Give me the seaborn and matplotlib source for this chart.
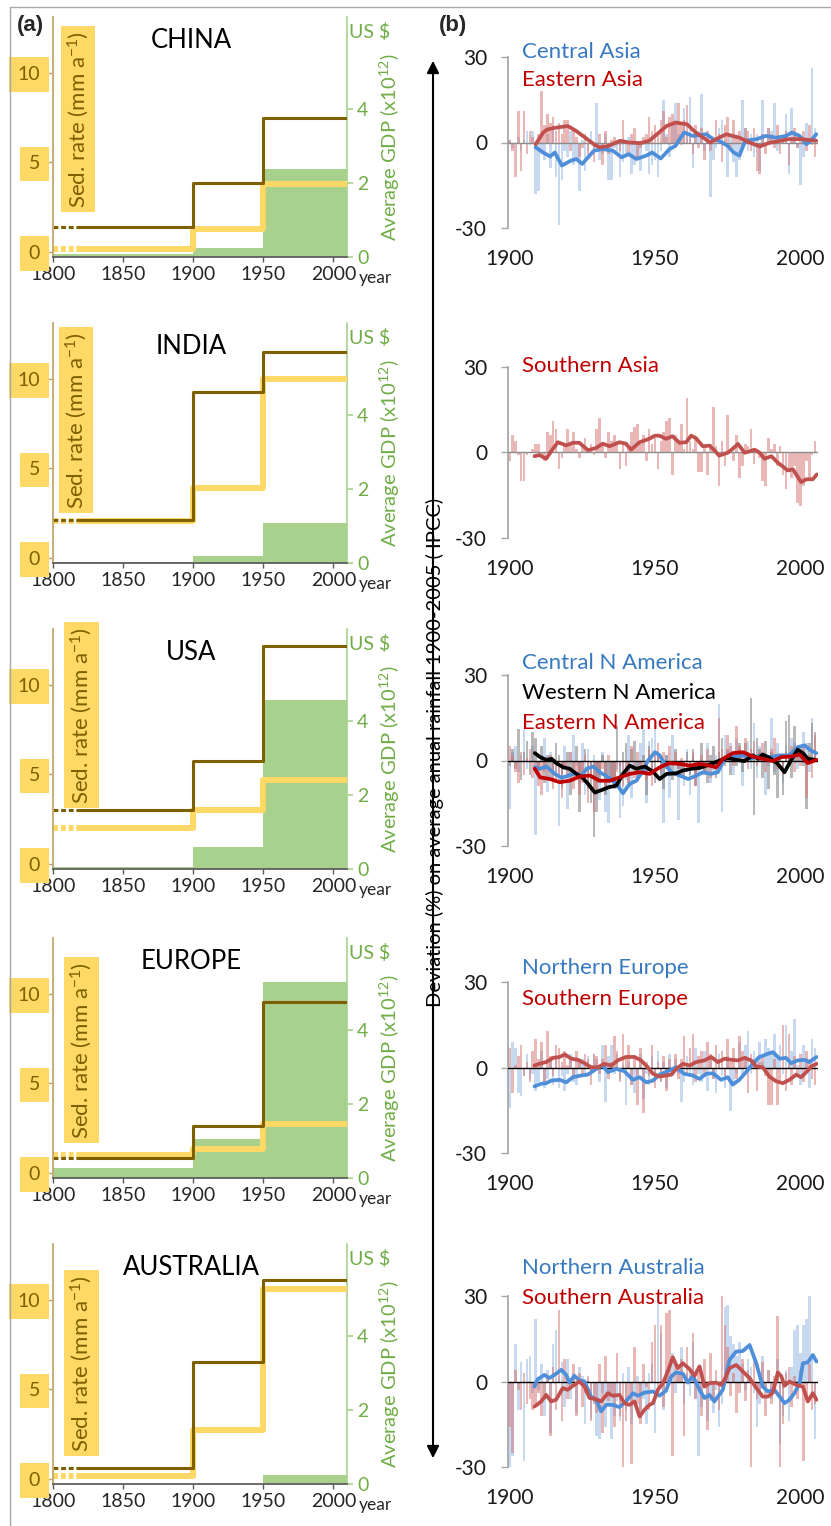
import numpy as np
import pandas as pd
import seaborn as sns
import matplotlib.pyplot as plt
from matplotlib.patches import FancyArrowPatch
from matplotlib.lines import Line2D

# ---------------- panel (a): sedimentation rate vs GDP ----------------
regions = ["CHINA", "INDIA", "USA", "EUROPE", "AUSTRALIA"]
period_edges = [1800, 1900, 1950, 2009.5]
break_end = 1818  # dotted "break" before this year

# dark brown step line (mm a-1) for 1800-1900, 1900-1950, 1950-
sed_dark = [[1.4, 3.85, 7.5], [2.1, 9.27, 11.5], [3.02, 5.74, 12.16],
            [0.84, 2.64, 9.53], [0.59, 6.55, 11.13]]
# thick yellow step line (mm a-1)
sed_light = [[0.15, 1.26, 3.8], [2.05, 3.91, 10.0], [1.99, 2.98, 4.69],
             [0.97, 1.34, 2.74], [0.13, 2.7, 10.58]]
# average GDP (x10^12 US $)
gdp = [[0.09, 0.26, 2.39], [0.03, 0.2, 1.1], [0.05, 0.59, 4.59],
       [0.27, 1.05, 5.3], [0.0, 0.02, 0.25]]

# ---------------- panel (b): rainfall deviation (%) ----------------
central_asia = [
    1, -2, 0, 2, -3, 1, 4, -1, 4, -18,
    -17, -4, -6, 3, -9, 6, -12, -29, -13, -3,
    -5, 4, -8, -6, -17, 1, -10, -3, 4, -4,
    14, -6, -4, 3, -13, -13, -2, -3, -12, -7,
    -4, 2, -11, -8, -6, -10, -1, -3, -11, -8,
    -6, -12, -3, 15, 3, -5, 7, 14, 3, -1,
    12, 4, 16, -9, 3, 4, 17, -3, 1, -19,
    -6, -2, 5, 8, 1, -12, 3, -7, -12, -6,
    15, 5, -3, 3, -5, 3, -10, 15, -1, 5,
    4, 14, -3, 0, 1, 10, -11, 12, 3, -2,
    -15, -5, 7, 0, 26, 5]
eastern_asia = [
    1, -3, -12, 11, -10, 11, -4, 4, 2, -1,
    3, 18, 6, 10, 7, 9, 4, 7, 3, 8,
    8, -3, 5, 2, -5, -2, 3, -5, 1, -7,
    -2, 3, -8, 4, -4, 1, 2, -1, -3, 8,
    1, -4, 3, 5, -6, -2, 2, 3, 9, 4,
    6, 3, 8, 11, 2, 9, 10, 7, 14, 6,
    8, 13, 2, -4, 6, -2, 5, -6, 4, -3,
    0, 8, 3, -7, 6, 9, -3, 8, 2, 4,
    -2, 5, 4, -3, 5, -10, -11, 3, -4, 5,
    3, -2, 6, -4, 2, 4, -8, 1, 5, -2,
    2, 4, -3, 6, -1, -5]
southern_asia = [
    -3, 6, 4, -1, -10, -10, -1, 0, 1, 3,
    3, -1, -3, 7, 6, 11, 8, -6, -2, 3,
    8, 3, 7, 1, -2, 2, 5, 1, 3, -1,
    8, 12, 3, -2, 7, 4, 6, 4, -6, 3,
    -5, 2, 7, 9, 10, 3, 6, -3, 8, 3,
    5, -6, 4, 7, 11, 12, -8, 6, 3, 10,
    1, 19, 4, 1, 5, -7, -7, 2, -8, 3,
    16, 2, -12, 4, -5, 13, 1, -3, 6, -9,
    -5, 3, 2, 8, -4, 1, -2, -10, -12, 5,
    1, 3, -5, 2, -8, -13, -7, -9, -5, -18,
    -19, -12, -3, -10, -1, 4]
central_n_america = [
    -17, 3, 5, -4, 2, 11, -3, 0, 5, -26,
    -5, 2, 8, -11, 3, -6, -4, -23, -10, 5,
    -17, 3, 9, -2, -8, 6, -12, 4, -3, 2,
    -8, -14, 3, -18, -22, -6, -10, -3, -20, -16,
    -7, 9, -13, -2, -5, 6, 11, -15, 7, 8,
    12, 3, -6, -22, 2, -13, 9, -4, -21, -3,
    -9, 4, -12, 2, -6, -22, -2, -4, 6, -8,
    -5, 2, 20, -18, 9, 3, 6, -5, 8, 4,
    -9, 2, 7, -3, 13, -6, 5, 3, -12, -2,
    15, -4, 6, 2, -8, 5, 3, 8, 6, -3,
    5, 10, 6, -4, 15, 2]
western_n_america = [
    -2, 4, -3, 11, -7, 3, 7, -5, 10, 8,
    -3, 5, -8, 2, -6, -4, 6, 2, -9, -3,
    3, -12, -5, 5, -18, -6, 4, -10, -15, -27,
    -18, -8, 2, -12, -5, -7, -9, 12, -10, 3,
    6, -8, 4, 7, -6, -3, 2, -12, 5, -4,
    -8, 3, -6, -10, 2, -5, -7, 4, -3, -6,
    -2, 3, -5, 4, -9, -3, 6, -4, -8, 2,
    5, -6, 3, 8, -2, 4, -5, 3, -2, 6,
    -4, 6, 3, 22, -19, 8, 4, -6, 7, -10,
    3, -5, -13, 2, -12, 14, 16, -6, 12, 5,
    4, -2, -17, 6, 13, 10]
eastern_n_america = [
    5, 2, -4, -8, 3, -5, 1, 4, -6, -3,
    -9, -12, -4, -7, 2, -10, -8, -5, -13, -3,
    -6, 3, -10, -4, -12, -8, 2, -15, -6, -18,
    -12, -5, -3, -9, 2, -7, -10, -4, -2, -9,
    -3, -8, 5, -6, 3, -5, -2, -7, 4, -9,
    2, 6, -4, 3, -3, 5, -2, 3, -3, 1,
    -6, -4, -2, 3, -9, -3, 2, -5, 4, -6,
    -2, -1, 15, 4, 2, 9, 5, -2, 12, 5,
    2, 8, -3, 4, 7, -2, 3, 6, -4, 2,
    4, 8, -3, 2, -5, 3, 1, 5, -4, 3,
    -2, 5, -13, 2, -6, 9]
northern_europe = [
    -14, 9, 7, -9, -10, -3, 5, -4, -2, -8,
    -5, 6, -7, -4, 3, -6, 4, -7, -3, -8,
    -2, 5, -5, -6, 2, 3, -3, 4, -2, 5,
    3, -5, 8, -12, 4, 8, -2, 5, -4, 1,
    -13, 2, -6, -9, -3, 5, -11, -2, -6, 4,
    -3, 6, -5, 2, -7, 5, -3, 3, -2, -12,
    -5, 4, -3, -6, 7, -2, -5, 6, -8, 3,
    -4, -9, 5, -3, -7, 4, -15, -6, -2, 9,
    -3, 8, 13, -2, 6, 4, 9, 2, 10, 7,
    5, 12, 3, 8, -2, 15, 3, 6, 17, 1,
    -6, 8, 3, -7, 10, 7]
southern_europe = [
    7, -9, 1, 4, 8, -3, 2, -5, 6, 10,
    3, 9, -5, 13, 4, -3, 8, 7, 2, 6,
    1, 4, -4, 6, 2, -3, 5, 3, -6, 5,
    4, -2, 3, 8, -4, 2, 11, 6, -5, 12,
    3, 8, -6, 4, -13, 7, -16, 2, -3, 8,
    -7, 2, -5, 4, -8, 3, -2, 5, -4, 3,
    11, -3, 7, 12, -5, 4, 6, -2, 9, 5,
    -4, 8, 3, 6, -3, 10, 2, 7, -4, 11,
    6, 4, -9, 5, 3, -8, 2, 4, -3, -13,
    -13, 3, -13, -5, 15, -8, 12, -6, 4, -3,
    5, -5, 6, 3, -4, -6]
northern_australia = [
    -30, -26, 13, -10, 7, -28, 8, 9, -4, 22,
    -3, 6, -12, 4, -18, 13, 18, 2, 7, -9,
    8, -6, 3, -11, 5, 2, -15, 1, -13, -8,
    -19, -20, -4, -16, -8, -20, -12, -7, -14, 3,
    -10, 5, -15, -8, 2, -12, -6, -15, 3, 6,
    -18, 29, 17, -10, 4, 2, 10, -4, 6, 12,
    -8, 3, -5, 14, -6, -26, -9, -2, -14, -7,
    -11, -3, -16, -8, 26, 27, 16, 13, 9, 14,
    6, -3, 8, 5, -4, -16, -8, 9, -2, 4,
    -6, -2, 8, -22, -12, 4, -14, 5, 18, 20,
    10, 20, 22, 30, 8, -20]
southern_australia = [
    -16, -25, 4, -3, -10, 3, -8, -6, -10, -8,
    -4, -12, -6, 2, -19, 5, -10, 25, -14, 8,
    -6, -2, 6, -12, 3, -9, -4, 2, -14, -8,
    -11, 6, -18, 9, -7, -4, -16, 10, -12, -30,
    -14, -6, -29, 12, -8, -15, 6, -2, -10, 14,
    20, -5, 20, -9, 24, 25, -26, 6, 3, 8,
    -19, 12, 5, 17, -6, 3, -12, 8, -17, 10,
    -6, 4, -10, 30, 20, 12, -5, 3, -11, -4,
    8, -7, 4, -30, 10, -6, -3, 7, -12, 4,
    -8, 2, 23, -30, -15, 3, 5, -9, 2, -6,
    4, -28, -5, 6, -10, -8]

# running means (year, %)
central_asia_line = [
    (1909, -1.7), (1911.6, -3.5), (1914, -4.9), (1915.6, -3.5), (1918, -8.1),
    (1921, -6.4), (1923, -5.8), (1925, -7.5), (1929, -2.9), (1932, -2.3),
    (1935.6, -2.9), (1938.5, -5.2), (1941, -4.1), (1943.6, -5.8), (1947, -4.6),
    (1949, -3.5), (1952, -5.6), (1955, -2.3), (1957, -1.2), (1960, 3.5),
    (1963, 2.3), (1967.6, 2.9), (1970, 1.2), (1972, 0.6), (1975, -1.2),
    (1977, -3.5), (1979, -4.6), (1981, 0.6), (1985, 1.2), (1988, 2.3),
    (1991.6, 1.7), (1995, 2.3), (1997, 3.5), (1999.7, 2.3), (2002, -0.6),
    (2004, 1.2), (2005.4, 2.9)]
eastern_asia_line = [
    (1909, -0.6), (1911.6, 3.5), (1913, 4.6), (1916, 5.2), (1920, 5.8),
    (1923, 4.0), (1926, 1.7), (1929, -0.6), (1931, -1.7), (1934, -1.2),
    (1938, 0.6), (1941, 0.0), (1945, -0.2), (1948, 0.6), (1950, 2.3),
    (1954, 5.8), (1957, 7.0), (1961, 6.4), (1964, 3.5), (1969, 0.0),
    (1972, 1.7), (1974.5, 2.9), (1979, 1.7), (1982.5, 0.0), (1986, -1.4),
    (1989, -0.2), (1993, 0.6), (1996, 1.2), (2000, 1.2), (2005.4, 0.6)]
southern_asia_line = [
    (1908.6, -1.4), (1910.3, -1.0), (1912.6, -2.3), (1914.3, 0.3), (1916.6, 3.5),
    (1919.5, 2.4), (1921.8, 3.3), (1924, 3.3), (1927, 0.7), (1929.8, 1.5),
    (1932, 3.0), (1934.4, 2.1), (1937.8, 3.5), (1940, 3.0), (1941.8, 0.9),
    (1944.7, 3.5), (1948, 4.7), (1950, 5.8), (1951.5, 5.8), (1953.8, 4.7),
    (1956, 5.6), (1958.4, 3.3), (1960.7, 3.5), (1962.4, 5.8), (1964, 5.0),
    (1966.4, 2.1), (1968.7, 2.3), (1970.4, 0.7), (1972, -1.2), (1975, -0.2),
    (1976.7, 1.2), (1978.5, 2.9), (1980.8, -0.2), (1982.5, 0.3), (1984.2, 0.9),
    (1986, -0.2), (1987.6, -2.3), (1990, -1.4), (1992.2, -3.7), (1994.5, -5.5),
    (1995.6, -6.4), (1997.4, -6.0), (1998.5, -7.8), (2000.2, -10.5), (2002, -9.5),
    (2004.2, -9.5), (2005.6, -7.8)]
central_n_america_line = [
    (1908.7, -2.4), (1910.5, -2.9), (1912.7, -2.1), (1915.6, -4.7), (1917.9, -6.1),
    (1920.2, -5.3), (1922.5, -4.5), (1924.8, -5.3), (1926.5, -2.9), (1928.8, -2.1),
    (1931, -4.1), (1934, -5.9), (1936.7, -8.2), (1939, -11.5), (1941.3, -8.2),
    (1943.6, -7.1), (1945.9, -3.5), (1947.6, 0.0), (1950, 2.9), (1951.6, 1.8),
    (1953.3, -1.2), (1955.6, -4.1), (1958.5, -5.3), (1961.4, -6.5), (1964.2, -5.3),
    (1966.5, -4.1), (1969.3, -4.7), (1971.6, -4.1), (1973.9, 0.6), (1976.8, 1.2),
    (1980.2, 1.8), (1983, 0.6), (1986, 1.8), (1989.4, 1.2), (1992.8, 1.8),
    (1996.2, 1.8), (1999, 4.7), (2001.4, 5.3), (2003.6, 3.5), (2005.4, 2.6)]
western_n_america_line = [
    (1908.7, 2.6), (1910.5, 1.2), (1912.7, 0.2), (1914.5, 0.6), (1916, -0.9),
    (1918.5, -2.4), (1920.7, -2.9), (1923, -4.7), (1925, -5.9), (1927, -8.2),
    (1929.3, -11.2), (1931.6, -10.4), (1934, -9.4), (1936.7, -8.8), (1939, -4.7),
    (1941.3, -1.8), (1943.6, -2.9), (1946.5, -2.1), (1949.3, -3.9), (1951.6, -6.5),
    (1954, -4.7), (1957.3, -4.5), (1959.6, -3.5), (1962.5, -2.9), (1965.4, -2.6),
    (1968.8, -1.4), (1972.2, 0.0), (1975, 0.9), (1978, 0.2), (1980.8, -0.2),
    (1983.6, 1.8), (1985.4, 0.6), (1987, 2.1), (1989.4, 0.9), (1992.2, -1.2),
    (1994.5, -4.1), (1996.8, 0.2), (1999, 3.8), (2000.8, 2.6), (2002.5, 0.6),
    (2005.4, 0.2)]
eastern_n_america_line = [
    (1908.7, -2.9), (1910.5, -5.9), (1913.9, -6.5), (1917.3, -7.6), (1920.7, -7.1),
    (1924.2, -5.6), (1927.6, -5.3), (1931, -7.1), (1934.5, -7.1), (1937.9, -5.9),
    (1941.3, -4.7), (1944.8, -4.1), (1948.2, -4.7), (1951.6, -2.4), (1955, -0.9),
    (1958.5, -1.2), (1961.9, -1.8), (1965.4, -1.2), (1968.8, -1.8), (1971, -2.4),
    (1973.4, 0.6), (1976.8, 2.6), (1980.2, 2.9), (1983.6, 1.4), (1987, 0.6),
    (1990.5, -0.2), (1993.4, 1.2), (1996.8, 1.4), (1999.7, 2.1), (2002.5, -0.9),
    (2005.4, 0.2)]
northern_europe_line = [
    (1908.6, -6.5), (1910.9, -5.6), (1912.6, -5.4), (1914.3, -4.5), (1917.2, -4.2),
    (1919.5, -5.1), (1921.8, -3.3), (1924.6, -2.7), (1926.9, -2.4), (1929.8, -0.4),
    (1932, 0.8), (1933.8, -1.5), (1936.7, -0.4), (1939.5, -1.2), (1942.4, -4.2),
    (1944.7, -3.3), (1947, -5.1), (1949.3, -4.5), (1951.5, -2.4), (1954.4, -1.2),
    (1957.3, 0.2), (1960, -2.1), (1963, -2.7), (1965.3, -3.9), (1967.6, -2.1),
    (1969.9, -1.9), (1972.7, -4.2), (1975, -3.3), (1976.7, -5.9), (1979, -4.2),
    (1981.3, -1.5), (1983.6, 1.4), (1985.9, 3.8), (1988.8, 4.9), (1990.5, 5.5),
    (1992.8, 3.2), (1995, 3.5), (1996.8, 1.6), (1999, 2.6), (2001.4, 2.8),
    (2003, 2.0), (2005.5, 3.8)]
southern_europe_line = [
    (1908.6, 0.8), (1910.3, 1.4), (1912.6, 2.0), (1915, 3.5), (1917.2, 3.8),
    (1919, 4.7), (1921.2, 3.2), (1923.5, 2.8), (1925.8, 1.6), (1928, 0.2),
    (1930.4, 0.2), (1932.6, 1.4), (1935, 0.8), (1937.2, 2.6), (1940, 3.8),
    (1943, 3.8), (1945.2, 2.6), (1947.5, 0.2), (1949.3, -2.1), (1951.5, -3.1),
    (1953.8, -2.7), (1955.6, -2.4), (1957.3, -0.4), (1959.6, 1.4), (1961.9, 0.8),
    (1964.1, 2.0), (1967, 2.6), (1969.3, 3.8), (1971.6, 2.0), (1973.9, 3.2),
    (1976.2, 2.8), (1978.5, 2.6), (1980.8, 3.5), (1983, 2.6), (1984.8, 0.5),
    (1987, 0.2), (1989.3, -3.1), (1991.6, -4.7), (1993.9, -5.4), (1996.2, -4.2),
    (1998.5, -2.4), (2000.2, -3.3), (2002, -1.5), (2003.7, 0.5), (2005.5, 1.4)]
northern_australia_line = [
    (1908.6, -1.8), (1909.7, 0.8), (1912, 2.3), (1913.7, 1.2), (1916, 2.7),
    (1917.8, 4.1), (1919.5, 2.3), (1920.6, -0.4), (1922.3, 2.0), (1924, 0.4),
    (1925.8, 0.0), (1928, -5.3), (1929.8, -6.4), (1931.5, -10.5), (1933.2, -8.2),
    (1935.5, -8.2), (1937.8, -9.0), (1940, -7.0), (1942.4, -4.1), (1944.1, -5.0),
    (1946.4, -3.9), (1949.3, -3.5), (1951.5, -5.0), (1953.8, -3.2), (1955.6, 1.8),
    (1957.3, 3.2), (1959.6, 2.7), (1961.3, -0.4), (1963, 2.0), (1965.3, -2.9),
    (1967, -5.8), (1968.7, -4.7), (1970.4, -7.0), (1971.6, -5.3), (1973.3, -2.9),
    (1975.6, 7.6), (1977.9, 10.5), (1980.2, 10.7), (1982.5, 12.8), (1984.8, 6.4),
    (1987, -1.8), (1988.8, -3.5), (1991, -2.9), (1992.8, -5.3), (1994.5, -7.6),
    (1996.2, -6.4), (1997.9, -4.1), (1999.7, -0.6), (2000.8, 6.4), (2002.5, 6.7),
    (2004.2, 9.3), (2005.5, 7.0)]
southern_australia_line = [
    (1908.6, -8.8), (1910.9, -7.0), (1912.6, -4.7), (1914.3, -7.0), (1916, -6.4),
    (1918.3, -2.3), (1920, -2.9), (1921.8, -1.5), (1924, 0.0), (1925.8, -1.8),
    (1927.5, -5.8), (1929.8, -6.2), (1931.5, -7.0), (1933.8, -4.1), (1935.5, -5.0),
    (1937.8, -4.7), (1939.5, -7.6), (1941.2, -8.2), (1943, -7.0), (1944.7, -12.3),
    (1946.4, -9.9), (1948.1, -8.2), (1949.3, -7.6), (1951, -2.9), (1952.7, -0.6),
    (1954.4, 3.5), (1956.1, 8.5), (1957.8, 4.7), (1959.6, 6.4), (1961.9, 4.3),
    (1963.6, 2.0), (1965.3, 5.3), (1967, -1.8), (1968.7, -0.6), (1971, -0.4),
    (1972.7, -1.2), (1973.9, 0.6), (1975.6, 4.7), (1977.9, 5.8), (1980.2, 3.5),
    (1982.5, 1.2), (1984.8, -2.3), (1987, -5.3), (1988.8, -5.3), (1990.5, -3.9),
    (1992.2, 3.2), (1993.4, 1.8), (1994.5, -1.5), (1996.2, 0.0), (1998.5, -1.2),
    (2000.8, -1.8), (2002.5, -7.0), (2004.2, -4.1), (2005.5, -6.4)]

# colours
YELLOW = "#ffd966"
BROWN = "#7f6000"
TAN = "#bfa56b"
GDP_FILL = "#a9d18e"
GREEN_TXT = "#70ad47"
BLUE_BAR, RED_BAR, GRAY_BAR = "#8fb4e3", "#d67070", "#7f7f7f"
BLUE_LINE, RED_LINE = "#4f8ed8", "#c0504d"
BLUE_TXT, RED_TXT = "#3779c0", "#c00000"

# panel (b) contents: (label, bars, line, bar colour, line colour, text colour)
panels_b = [
    [("Central Asia", central_asia, central_asia_line, BLUE_BAR, BLUE_LINE, BLUE_TXT),
     ("Eastern Asia", eastern_asia, eastern_asia_line, RED_BAR, RED_LINE, RED_TXT)],
    [("Southern Asia", southern_asia, southern_asia_line, RED_BAR, RED_LINE, RED_TXT)],
    [("Central N America", central_n_america, central_n_america_line, BLUE_BAR, BLUE_LINE, BLUE_TXT),
     ("Western N America", western_n_america, western_n_america_line, GRAY_BAR, "black", "black"),
     ("Eastern N America", eastern_n_america, eastern_n_america_line, RED_BAR, "#c00000", RED_TXT)],
    [("Northern Europe", northern_europe, northern_europe_line, BLUE_BAR, BLUE_LINE, BLUE_TXT),
     ("Southern Europe", southern_europe, southern_europe_line, RED_BAR, RED_LINE, RED_TXT)],
    [("Northern Australia", northern_australia, northern_australia_line, BLUE_BAR, BLUE_LINE, BLUE_TXT),
     ("Southern Australia", southern_australia, southern_australia_line, RED_BAR, RED_LINE, RED_TXT)],
]

# layout (pixels of the 831x1526 canvas)
W, H = 831, 1526
left_bottoms = [257.3, 563.3, 869.3, 1178.3, 1484.3]
sed_label_x = [0.084, 0.077, 0.096, 0.096, 0.096]
sed_label_y = [0.575, 0.596, 0.642, 0.533, 0.504]
right_tops = [57, 366.7, 675, 982.3, 1296]
legend_y = [[52, 80], [366], [663, 693, 723], [968, 999], [1268, 1298]]
zero_colors = ["#8c8c8c", "#8c8c8c", "black", "black", "black"]

sns.set_theme(style="white")
plt.rcParams["font.family"] = ["Lato", "DejaVu Sans"]
plt.rcParams["mathtext.fontset"] = "custom"
plt.rcParams["mathtext.rm"] = "Lato"
plt.rcParams["mathtext.default"] = "regular"


def box(left, top, width, height):
    return [left / W, 1 - (top + height) / H, width / W, height / H]


fig = plt.figure(figsize=(W / 100, H / 100), dpi=100)

# ---- left column ----
for i, region in enumerate(regions):
    bottom = left_bottoms[i]
    ax = fig.add_axes(box(53.3, bottom - 240, 293.4, 240))
    ax2 = ax.twinx()
    ax.set_zorder(ax2.get_zorder() + 1)
    ax.patch.set_visible(False)

    g = gdp[i] + [gdp[i][-1]]
    ax2.fill_between(period_edges, g, step="post", color=GDP_FILL, lw=0)

    for vals, col, lw, dash in [(sed_light[i], YELLOW, 4.3, (0.84, 0.47)),
                                (sed_dark[i], BROWN, 2.2, (1.6, 0.9))]:
        xs = [break_end] + period_edges[1:]
        ys = vals + [vals[-1]]
        sns.lineplot(x=xs, y=ys, ax=ax, color=col, lw=lw, drawstyle="steps-post",
                     legend=False, estimator=None)
        sns.lineplot(x=[1800, break_end], y=[vals[0], vals[0]], ax=ax, color=col,
                     lw=lw, linestyle=(0, dash), legend=False, estimator=None)

    ax.set_xlim(1800, 2009.5)
    ax.set_ylim(-0.31, 13.1)
    ax.set_xticks(range(1800, 2001, 50))
    ax.set_yticks([0, 5, 10])
    ax2.set_ylim(0, 6.49)
    ax2.set_yticks([0, 2, 4])
    ax.set_xlabel("")
    ax.set_ylabel("")

    for s in ["top", "right"]:
        ax.spines[s].set_visible(False)
    ax.spines["left"].set_color(TAN)
    ax.spines["bottom"].set_color("#595959")
    for s in ["top", "left", "bottom"]:
        ax2.spines[s].set_visible(False)
    ax2.spines["right"].set_color(GDP_FILL)
    ax2.spines["right"].set_linewidth(1.2)

    ax.tick_params(axis="x", color="#595959", labelcolor="#262626", length=3.6,
                   width=1, labelsize=14, pad=3, bottom=True)
    ax.tick_params(axis="y", color=TAN, labelcolor=BROWN, length=4, width=1,
                   labelsize=14, pad=5.5, left=True)
    ax2.tick_params(axis="y", color=GDP_FILL, labelcolor=GREEN_TXT, length=4.5,
                    width=1.2, labelsize=14, pad=3, right=True)
    for t in ax.get_yticklabels():
        t.set_bbox(dict(boxstyle="square,pad=0.45", fc=YELLOW, ec="none"))

    ax.text(0.47, 0.904, region, transform=ax.transAxes, ha="center", va="center",
            fontsize=18.5, color="black")
    ax.text(sed_label_x[i], sed_label_y[i], "Sed. rate (mm a$^{-1}$)",
            transform=ax.transAxes, rotation=90, ha="center", va="center",
            fontsize=16, color=BROWN,
            bbox=dict(boxstyle="square,pad=0.2", fc=YELLOW, ec="none"))
    ax.text(1.079, 0.9375, "US $", transform=ax.transAxes, ha="center",
            va="center", fontsize=14, color=GREEN_TXT)
    ax.text(1.148, 0.458, "Average GDP (x10$^{12}$)", transform=ax.transAxes,
            rotation=90, ha="center", va="center", fontsize=14.5, color=GREEN_TXT)
    ax.text(1.098, -0.0875, "year", transform=ax.transAxes, ha="center",
            va="center", fontsize=12.5, color="#262626")

# ---- right column ----
years = np.arange(1900, 2006)
for i, panel in enumerate(panels_b):
    ax = fig.add_axes(box(508.3, right_tops[i], 309.7, 171))
    for label, bars, line, bcol, lcol, tcol in panel:
        sns.barplot(x=years, y=bars, ax=ax, native_scale=True, color=bcol,
                    saturation=1, alpha=0.5 if bcol != GRAY_BAR else 0.55,
                    width=0.9, errorbar=None, linewidth=0)
    ax.axhline(0, color=zero_colors[i], lw=1, zorder=3)
    for label, bars, line, bcol, lcol, tcol in panel:
        lx, ly = zip(*line)
        sns.lineplot(x=list(lx), y=list(ly), ax=ax, color=lcol, lw=2.7,
                     legend=False, estimator=None, zorder=4)
    for (label, bars, line, bcol, lcol, tcol), ty in zip(panel, legend_y[i]):
        fig.text(522 / W, 1 - ty / H, label, color=tcol, fontsize=16,
                 ha="left", va="center")

    ax.set_xlim(1899.6, 2006)
    ax.set_ylim(-30, 30)
    ax.set_xticks([1900, 1950, 2000])
    ax.set_xticklabels(["1900", "1950", "2000"])
    ax.set_yticks([-30, 0, 30])
    ax.set_yticklabels(["-30", "0", "30"])
    ax.set_xlabel("")
    ax.set_ylabel("")
    for s in ["top", "right", "bottom"]:
        ax.spines[s].set_visible(False)
    ax.spines["left"].set_color("#a6a6a6")
    ax.tick_params(axis="x", length=0, pad=15, labelsize=15, labelcolor="#1a1a1a")
    ax.tick_params(axis="y", length=5.3, width=1, color="#a6a6a6", pad=10,
                   labelsize=15, labelcolor="#1a1a1a", left=True)

# ---- shared annotations ----
fig.add_artist(FancyArrowPatch((433 / W, 1 - 1461 / H), (433 / W, 1 - 58 / H),
                               transform=fig.transFigure, arrowstyle="<|-|>",
                               mutation_scale=18, color="black", lw=1.5))
fig.text(435 / W, 1 - 752 / H,
         "Deviation (%) on average anual rainfall 1900-2005 ( IPCC)",
         rotation=90, ha="center", va="center", fontsize=14.5, color="black")
fig.text(30 / W, 1 - 25 / H, "(a)", fontsize=16, fontweight="bold",
         family="Liberation Sans", ha="center", va="center")
fig.text(453 / W, 1 - 25 / H, "(b)", fontsize=16, fontweight="bold",
         family="Liberation Sans", ha="center", va="center")

# thin frame lines
fig.add_artist(Line2D([10 / W, 10 / W], [1 - 7 / H, 0], transform=fig.transFigure,
                      color="#a6a6a6", lw=1))
fig.add_artist(Line2D([10 / W, 1], [1 - 7 / H, 1 - 7 / H], transform=fig.transFigure,
                      color="#a6a6a6", lw=1))

fig.savefig("out.png", dpi=100)
